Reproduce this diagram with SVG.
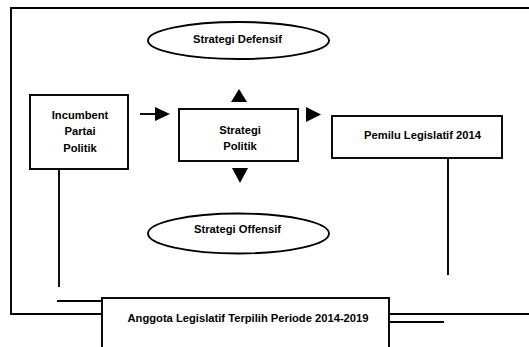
<svg xmlns="http://www.w3.org/2000/svg" width="529" height="347" viewBox="0 0 529 347">
<style>
.box{fill:#fff;stroke:#000;stroke-width:1.9}
.ln{fill:none;stroke:#000;stroke-width:1.9}
.t{font-family:"Liberation Sans",Arial,sans-serif;font-weight:bold;font-size:11.2px;text-anchor:middle;fill:#000}
.tri{fill:#000}
</style>
<rect width="529" height="347" fill="#fff"/>
<g id="connectors">
<polyline class="ln" points="540,8 11,8 11,314 102,314"/>
<line class="ln" x1="389" y1="314" x2="540" y2="314"/>
<line class="ln" x1="59" y1="169" x2="59" y2="287"/>
<line class="ln" x1="57" y1="301" x2="102" y2="301"/>
<line class="ln" x1="448" y1="158" x2="448" y2="275"/>
<line class="ln" x1="389" y1="322" x2="444" y2="322"/>
<line class="ln" x1="140" y1="114" x2="158" y2="114"/>
<polygon class="tri" points="155,107 170,114 155,121"/>
<polygon class="tri" points="231,102 239,89 247,102"/>
<polygon class="tri" points="232,168 248,168 240,183"/>
<polygon class="tri" points="306,107 321,114.5 306,122"/>
</g>
<g id="defensif">
<ellipse class="box" cx="238.5" cy="40.5" rx="90.5" ry="18.5"/>
<text class="t" x="237.5" y="43">Strategi Defensif</text>
</g>
<g id="incumbent">
<rect class="box" x="30" y="95" width="98" height="74"/>
<text class="t" x="80" y="118.5">Incumbent</text>
<text class="t" x="80" y="134.5">Partai</text>
<text class="t" x="80" y="152">Politik</text>
</g>
<g id="strategi-politik">
<rect class="box" x="179" y="109" width="119" height="52"/>
<text class="t" x="240" y="133.5">Strategi</text>
<text class="t" x="240" y="149.5">Politik</text>
</g>
<g id="pemilu">
<rect class="box" x="332" y="116" width="170" height="42"/>
<text class="t" x="422.5" y="138.5">Pemilu Legislatif 2014</text>
</g>
<g id="offensif">
<ellipse class="box" cx="238.5" cy="233.5" rx="90.5" ry="20"/>
<text class="t" x="237.5" y="233">Strategi Offensif</text>
</g>
<g id="anggota">
<rect class="box" x="102" y="298" width="287" height="60"/>
<text class="t" x="248" y="322">Anggota Legislatif Terpilih Periode 2014-2019</text>
</g>
</svg>
